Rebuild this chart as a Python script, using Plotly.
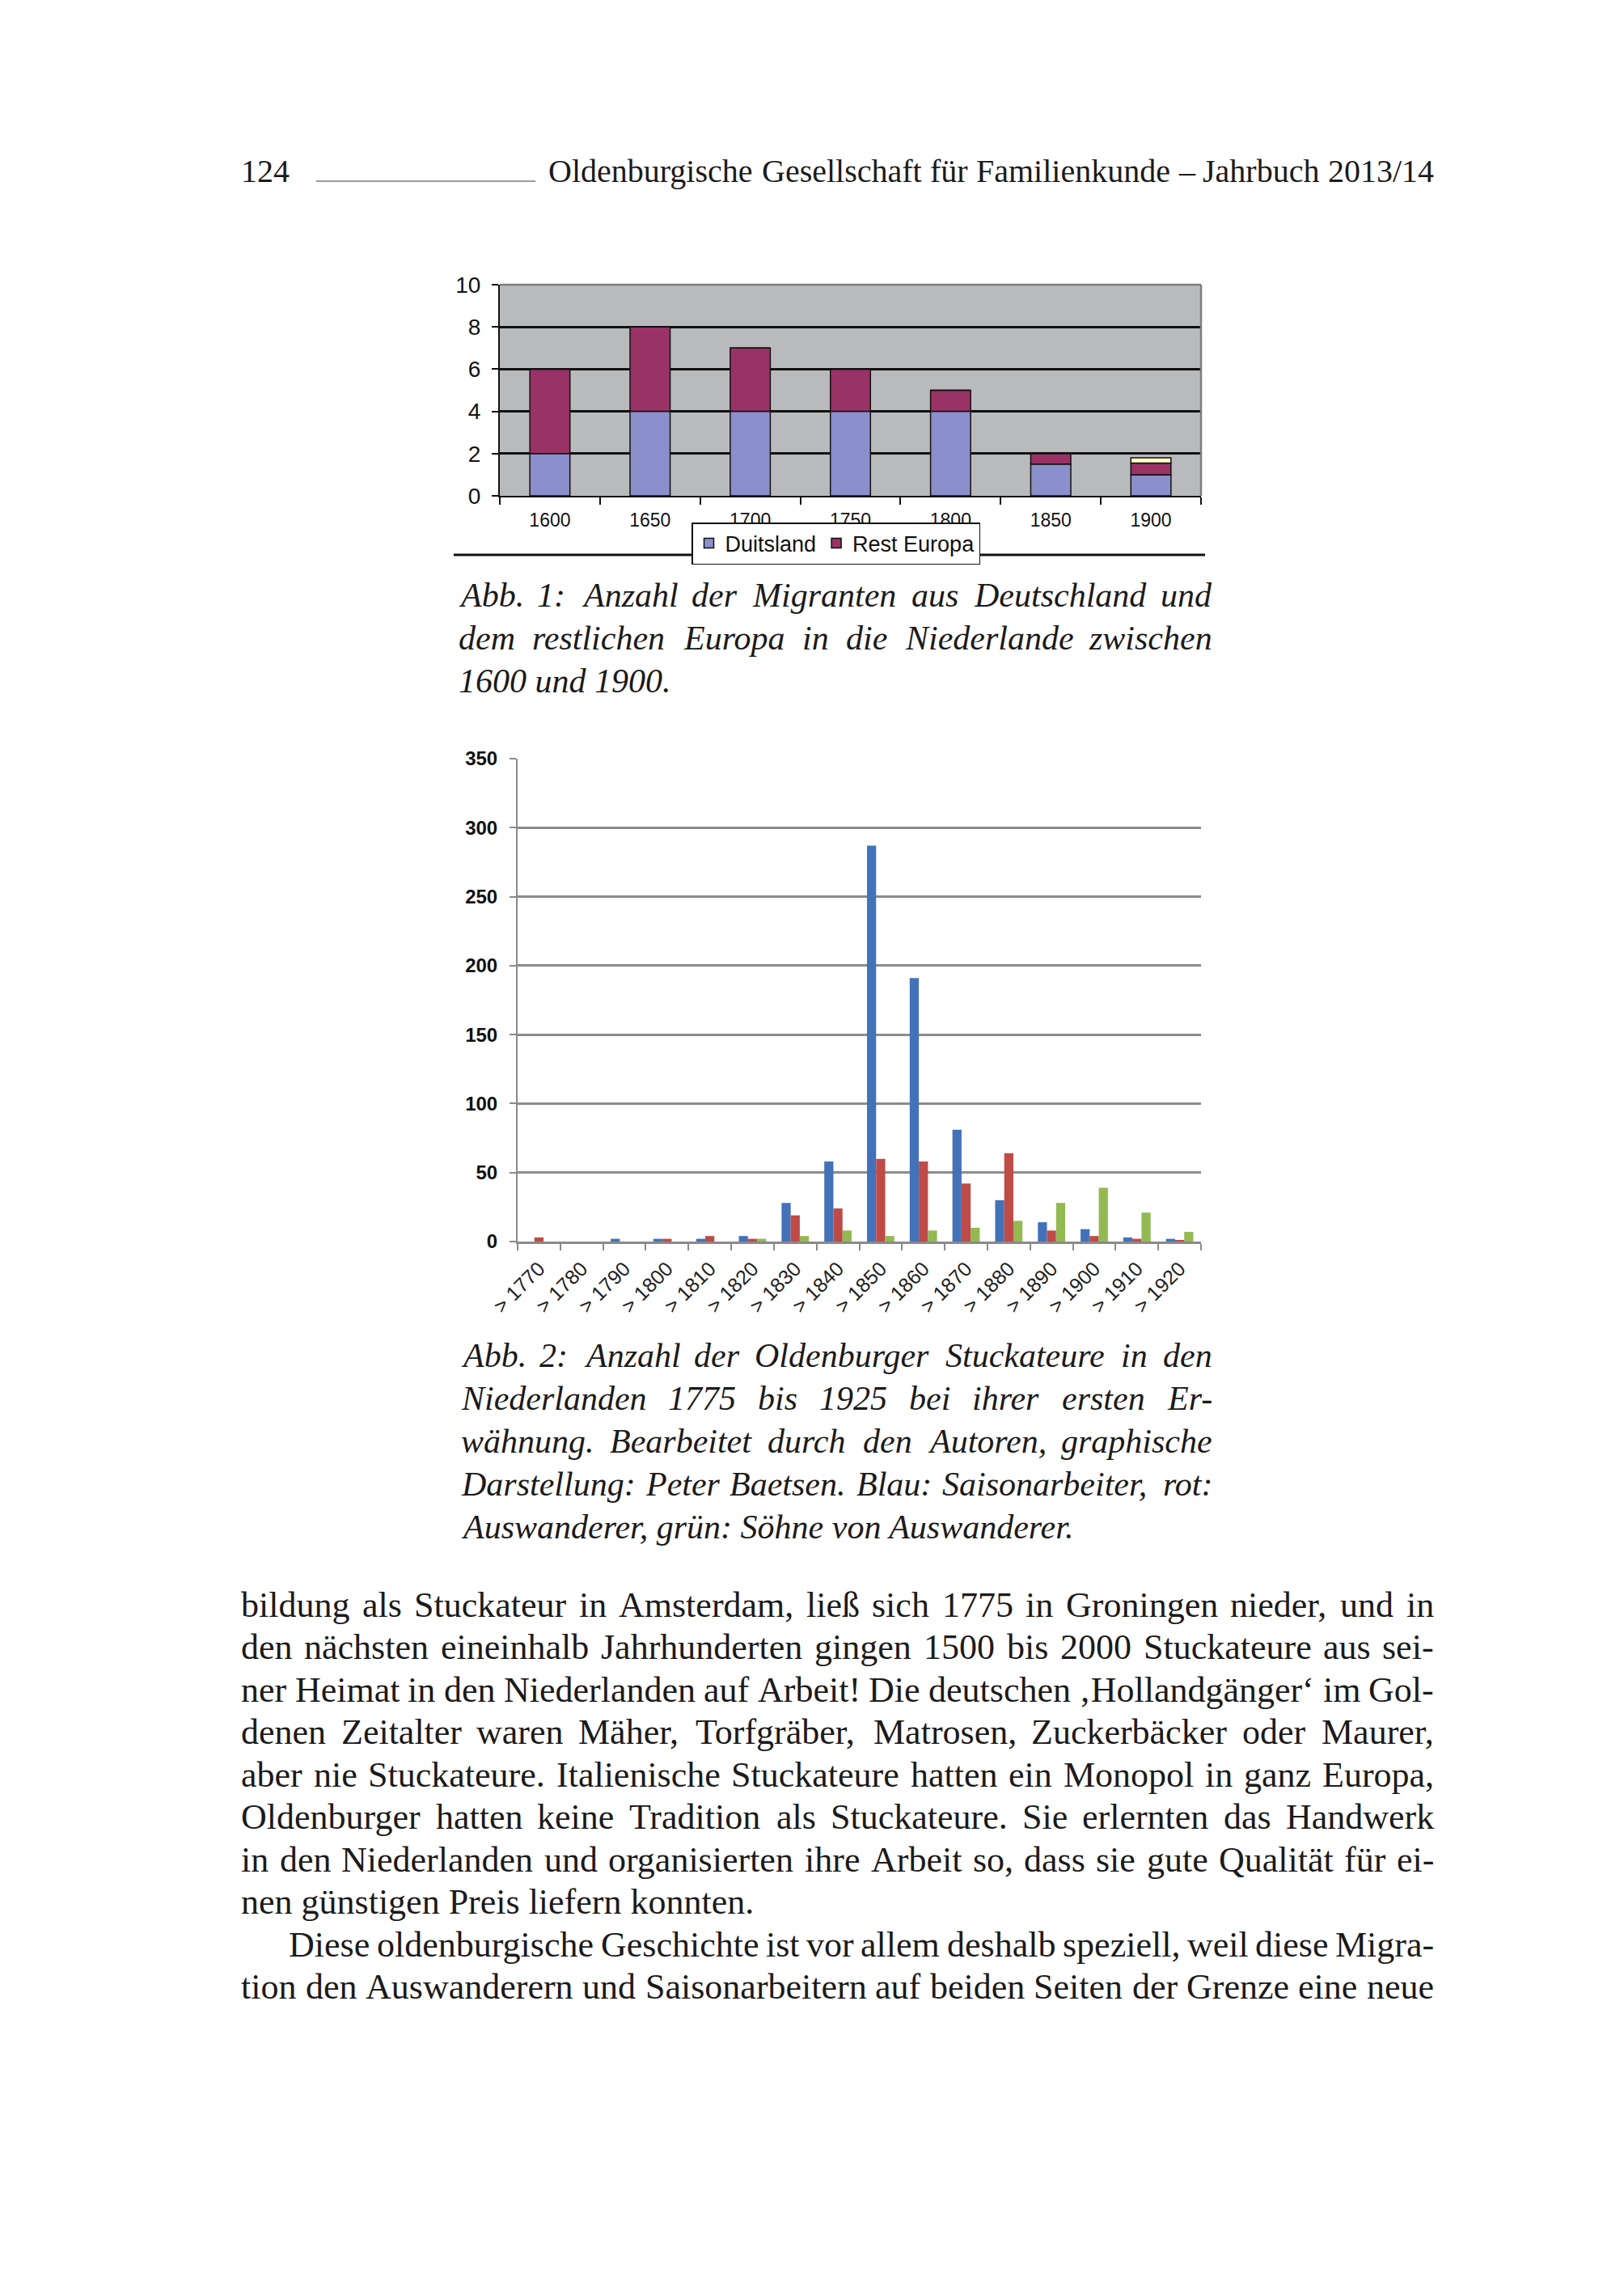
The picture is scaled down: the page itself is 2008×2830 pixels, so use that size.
import plotly.graph_objects as go

W, H = 2008, 2830
OFF = 8  # default page body margin of the written html

# ---------------- data: chart 1 ----------------
years1 = ["1600", "1650", "1700", "1750", "1800", "1850", "1900"]
duitsland = [2, 4, 4, 4, 4, 1.5, 1]
rest_europa = [4, 4, 3, 2, 1, 0.5, 0.55]
overig = [0, 0, 0, 0, 0, 0, 0.25]

# ---------------- data: chart 2 ----------------
periods2 = ["> 1770", "> 1780", "> 1790", "> 1800", "> 1810", "> 1820", "> 1830", "> 1840",
            "> 1850", "> 1860", "> 1870", "> 1880", "> 1890", "> 1900", "> 1910", "> 1920"]
saisonarbeiter = [0, 0, 2, 2, 2, 4, 28, 58, 287, 191, 81, 30, 14, 9, 3, 2]
auswanderer = [3, 0, 0, 2, 4, 2, 19, 24, 60, 58, 42, 64, 8, 4, 2, 1]
soehne = [0, 0, 0, 0, 0, 2, 4, 8, 4, 8, 10, 15, 28, 39, 21, 7]

# ---------------- text ----------------
header_num = "124"
header_title = "Oldenburgische Gesellschaft für Familienkunde – Jahrbuch 2013/14"
caption1 = ["Abb. 1: Anzahl der Migranten aus Deutschland und",
            "dem restlichen Europa in die Niederlande zwischen",
            "1600 und 1900."]
caption2 = ["Abb. 2: Anzahl der Oldenburger Stuckateure in den",
            "Niederlanden 1775 bis 1925 bei ihrer ersten Er-",
            "wähnung. Bearbeitet durch den Autoren, graphische",
            "Darstellung: Peter Baetsen. Blau: Saisonarbeiter, rot:",
            "Auswanderer, grün: Söhne von Auswanderer."]
body = ["bildung als Stuckateur in Amsterdam, ließ sich 1775 in Groningen nieder, und in",
        "den nächsten eineinhalb Jahrhunderten gingen 1500 bis 2000 Stuckateure aus sei-",
        "ner Heimat in den Niederlanden auf Arbeit! Die deutschen ‚Hollandgänger‘ im Gol-",
        "denen Zeitalter waren Mäher, Torfgräber, Matrosen, Zuckerbäcker oder Maurer,",
        "aber nie Stuckateure. Italienische Stuckateure hatten ein Monopol in ganz Europa,",
        "Oldenburger hatten keine Tradition als Stuckateure. Sie erlernten das Handwerk",
        "in den Niederlanden und organisierten ihre Arbeit so, dass sie gute Qualität für ei-",
        "nen günstigen Preis liefern konnten.",
        "Diese oldenburgische Geschichte ist vor allem deshalb speziell, weil diese Migra-",
        "tion den Auswanderern und Saisonarbeitern auf beiden Seiten der Grenze eine neue"]
body_last_in_par = [False, False, False, False, False, False, False, True, False, False]
body_indent = [False] * 8 + [True, False]

# ---------------- font metrics (Times / Liberation Serif, per 1000 em) ----------------
ROMAN = {' ': 250, '!': 333, ',': 250, '-': 333, '.': 250, '/': 278, ':': 278, ';': 278, '?': 444,
         '–': 500, '‚': 333, '‘': 333, '’': 333, 'ß': 500,
         'A': 722, 'B': 667, 'C': 667, 'D': 722, 'E': 611, 'F': 556, 'G': 722, 'H': 722, 'I': 333,
         'J': 389, 'K': 722, 'L': 611, 'M': 889, 'N': 722, 'O': 722, 'P': 556, 'Q': 722, 'R': 667,
         'S': 556, 'T': 611, 'U': 722, 'V': 722, 'W': 944, 'X': 722, 'Y': 722, 'Z': 611,
         'a': 444, 'b': 500, 'c': 444, 'd': 500, 'e': 444, 'f': 333, 'g': 500, 'h': 500, 'i': 278,
         'j': 278, 'k': 500, 'l': 278, 'm': 778, 'n': 500, 'o': 500, 'p': 500, 'q': 500, 'r': 333,
         's': 389, 't': 278, 'u': 500, 'v': 500, 'w': 722, 'x': 500, 'y': 500, 'z': 444,
         'ä': 444, 'ö': 500, 'ü': 500, 'Ä': 722, 'Ö': 722, 'Ü': 722}
ITALIC = {' ': 250, '!': 333, ',': 250, '-': 333, '.': 250, '/': 278, ':': 333, ';': 333,
          'A': 611, 'B': 611, 'C': 667, 'D': 722, 'E': 611, 'F': 611, 'G': 722, 'H': 722, 'I': 333,
          'J': 444, 'K': 667, 'L': 556, 'M': 833, 'N': 667, 'O': 722, 'P': 611, 'Q': 722, 'R': 611,
          'S': 500, 'T': 556, 'U': 722, 'V': 611, 'W': 833, 'X': 611, 'Y': 556, 'Z': 556,
          'a': 500, 'b': 500, 'c': 444, 'd': 500, 'e': 444, 'f': 278, 'g': 500, 'h': 500, 'i': 278,
          'j': 278, 'k': 444, 'l': 278, 'm': 722, 'n': 500, 'o': 500, 'p': 500, 'q': 500, 'r': 389,
          's': 389, 't': 278, 'u': 500, 'v': 444, 'w': 667, 'x': 444, 'y': 444, 'z': 389,
          'ä': 500, 'ö': 500, 'ü': 500}

SERIF = "Liberation Serif, Times New Roman, serif"
SANS = "Liberation Sans, Arial, sans-serif"
TXT = "#1c1a1a"


def tw(s, fs, italic=False):
    m = ITALIC if italic else ROMAN
    return sum(m.get(c, 500) for c in s) * fs / 1000.0


annotations = []


def px(x):
    return (x - OFF) / W


def py(y):
    return 1 - (y - OFF) / H


def add_line(text, left, right, yc, fs, italic=False, justify=True):
    font = dict(family=SERIF, size=fs, color=TXT, style="italic" if italic else "normal")
    words = text.split(" ")
    if not justify or len(words) == 1:
        annotations.append(dict(text=text, x=px(left), y=py(yc), xref="paper", yref="paper",
                                xanchor="left", yanchor="middle", showarrow=False,
                                font=font, borderpad=0, borderwidth=0))
        return
    ws = [tw(w, fs, italic) for w in words]
    gap = (right - left - sum(ws)) / (len(words) - 1)
    x = left
    for i, (w, wd) in enumerate(zip(words, ws)):
        last = i == len(words) - 1
        annotations.append(dict(text=w, x=px(right if last else x), y=py(yc),
                                xref="paper", yref="paper",
                                xanchor="right" if last else "left", yanchor="middle",
                                showarrow=False, font=font, borderpad=0, borderwidth=0))
        x += wd + gap


# header
add_line(header_num, 298, 360, 211, 40, justify=False)
add_line(header_title, 678, 1773, 211, 40, justify=True)

# captions
cap_left, cap_right = 567, 1499
for i, (line, yc) in enumerate(zip(caption1, [736, 789, 842])):
    add_line(line, cap_left, cap_right, yc, 42, italic=True, justify=(i < len(caption1) - 1))
for i, (line, yc) in enumerate(zip(caption2, [1676, 1729, 1782, 1835, 1888])):
    add_line(line, 570, cap_right, yc, 42, italic=True, justify=(i < len(caption2) - 1))

# body
body_y0, body_pitch = 1984, 52.5
for i, line in enumerate(body):
    left = 298 + (59 if body_indent[i] else 0)
    add_line(line, left, 1773, body_y0 + i * body_pitch, 44, justify=not body_last_in_par[i])

# ---------------- figure ----------------
fig = go.Figure()

c1_blue, c1_red, c1_other = "#8B8FCB", "#993366", "#FFFFCC"
fig.add_trace(go.Bar(x=years1, y=duitsland, name="Duitsland", marker=dict(color=c1_blue, line=dict(color="#111", width=1.5)),
                     xaxis="x", yaxis="y", offsetgroup="s", width=0.4, legendrank=1))
base2 = list(duitsland)
fig.add_trace(go.Bar(x=years1, y=rest_europa, base=base2, name="Rest Europa",
                     marker=dict(color=c1_red, line=dict(color="#111", width=1.5)),
                     xaxis="x", yaxis="y", offsetgroup="s", width=0.4, legendrank=2))
base3 = [a + b for a, b in zip(duitsland, rest_europa)]
fig.add_trace(go.Bar(x=years1, y=overig, base=base3, name="Overig", showlegend=False,
                     marker=dict(color=c1_other, line=dict(color="#111", width=1.5)),
                     xaxis="x", yaxis="y", offsetgroup="s", width=0.4))

c2 = ["#4372B9", "#BE4B48", "#93B953"]
for name, vals, col in [("Saisonarbeiter", saisonarbeiter, c2[0]),
                        ("Auswanderer", auswanderer, c2[1]),
                        ("Söhne von Auswanderer", soehne, c2[2])]:
    fig.add_trace(go.Bar(x=periods2, y=vals, name=name, showlegend=False, marker=dict(color=col, line=dict(width=0)),
                         xaxis="x2", yaxis="y2"))

fig.update_layout(
    width=W, height=H, margin=dict(l=0, r=0, t=0, b=0, pad=0, autoexpand=False),
    paper_bgcolor="white", plot_bgcolor="rgba(0,0,0,0)",
    barmode="group", bargap=0.36, bargroupgap=0,
    showlegend=True,
    legend=dict(orientation="h", x=px(855), y=py(646), xanchor="left", yanchor="top",
                bordercolor="#111", borderwidth=1.5, bgcolor="white",
                font=dict(family=SANS, size=27, color="#111"), itemwidth=30,
                tracegroupgap=0, itemclick=False, itemdoubleclick=False),
    xaxis=dict(domain=[px(618), px(1485)], anchor="y", type="category", showgrid=False, automargin=False,
               showline=True, linecolor="#111", linewidth=2, ticks="outside", tickson="boundaries",
               ticklen=9, tickwidth=2, tickcolor="#111", ticklabelstandoff=8,
               tickfont=dict(family=SANS, size=23, color="#111"), fixedrange=True),
    yaxis=dict(domain=[py(613), py(352)], anchor="x", range=[0, 10], dtick=2, showgrid=True, automargin=False,
               gridcolor="#111", gridwidth=2.5, zeroline=False, showline=True, linecolor="#111",
               linewidth=2, ticks="outside", ticklen=8, tickwidth=2, tickcolor="#111", ticklabelstandoff=8,
               tickfont=dict(family=SANS, size=28, color="#111"), fixedrange=True),
    xaxis2=dict(domain=[px(640), px(1485)], anchor="y2", type="category", showgrid=False, automargin=False,
                showline=True, linecolor="#8A8A8A", linewidth=3, ticks="outside", tickson="boundaries",
                ticklen=8, tickwidth=2, tickcolor="#8A8A8A", tickangle=-45, ticklabelstandoff=6,
                tickfont=dict(family=SANS, size=25, color="#222"), fixedrange=True),
    yaxis2=dict(domain=[py(1535), py(938)], anchor="x2", range=[0, 350], dtick=50, showgrid=True, automargin=False,
                gridcolor="#8C8C8C", gridwidth=2.5, zeroline=False, showline=True, linecolor="#8A8A8A",
                linewidth=2, ticks="outside", ticklen=8, tickwidth=2, tickcolor="#8A8A8A",
                ticklabelstandoff=10,
                tickfont=dict(family=SANS, size=24, color="#111", weight="bold"), fixedrange=True),
    annotations=annotations,
    shapes=[
        dict(type="rect", xref="x domain", yref="y domain", x0=0, x1=1, y0=0, y1=1,
             fillcolor="#B8BABB", line=dict(width=0), layer="below"),
        dict(type="line", xref="x domain", yref="y domain", x0=0, x1=1, y0=1, y1=1,
             line=dict(color="#7E7E7E", width=2.5), layer="above"),
        dict(type="line", xref="x domain", yref="y domain", x0=1, x1=1, y0=0, y1=1,
             line=dict(color="#7E7E7E", width=2.5), layer="above"),
        dict(type="line", xref="paper", yref="paper", x0=px(561), x1=px(1490), y0=py(686), y1=py(686),
             line=dict(color="#111", width=3)),
        dict(type="line", xref="paper", yref="paper", x0=px(391), x1=px(662), y0=py(224), y1=py(224),
             line=dict(color="#777", width=1.5)),
    ],
)

fig.write_html("out.html")
